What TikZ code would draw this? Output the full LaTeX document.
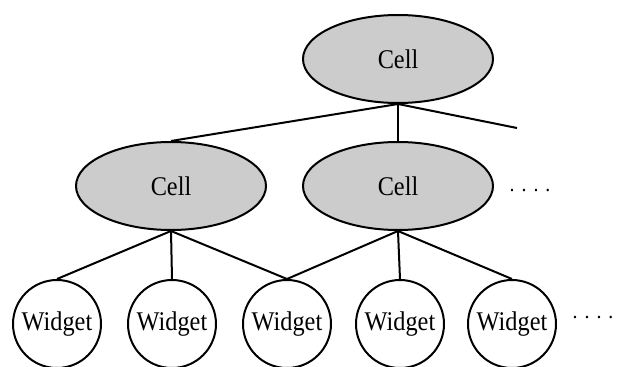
\documentclass[tikz,border=0pt]{standalone}
\usepackage{fontspec}
\setmainfont[FakeStretch=0.9]{Liberation Serif}
\usetikzlibrary{shapes.geometric}
\definecolor{cellgray}{HTML}{CCCCCC}
\tikzset{
  cellnode/.style={ellipse, draw, line width=2pt, fill=cellgray, minimum width=190pt, minimum height=88pt, inner sep=0pt, font=\fontsize{27}{30}\selectfont},
  widgetnode/.style={circle, draw, line width=2pt, fill=white, minimum size=88pt, inner sep=0pt, font=\fontsize{27}{30}\selectfont},
  link/.style={line width=2pt},
  dotsnode/.style={inner sep=0pt, font=\fontsize{22}{26}\selectfont}
}
\begin{document}
\begin{tikzpicture}[x=1pt,y=-1pt]
\useasboundingbox (0,0) rectangle (619,367);
\node[cellnode] (top) at (398,59) {Cell};
\node[cellnode] (ml) at (171,186) {Cell};
\node[cellnode] (mr) at (398,186) {Cell};
\node[widgetnode] (w1) at (57,324) {Widget};
\node[widgetnode] (w2) at (172,324) {Widget};
\node[widgetnode] (w3) at (287,324) {Widget};
\node[widgetnode] (w4) at (400,324) {Widget};
\node[widgetnode] (w5) at (512,324) {Widget};
\node[dotsnode, anchor=base] (d1) at (530,191) {.\hspace{7pt}.\hspace{7pt}.\hspace{7pt}.};
\node[dotsnode, anchor=base] (d2) at (593,318) {.\hspace{7pt}.\hspace{7pt}.\hspace{7pt}.};
\coordinate (free) at (517,128);
\draw[link] (top.south) -- (ml.north);
\draw[link] (top.south) -- (mr.north);
\draw[link] (top.south) -- (free);
\draw[link] (ml.south) -- (w1.north);
\draw[link] (ml.south) -- (w2.north);
\draw[link] (ml.south) -- (w3.north);
\draw[link] (mr.south) -- (w3.north);
\draw[link] (mr.south) -- (w4.north);
\draw[link] (mr.south) -- (w5.north);
\end{tikzpicture}
\end{document}
